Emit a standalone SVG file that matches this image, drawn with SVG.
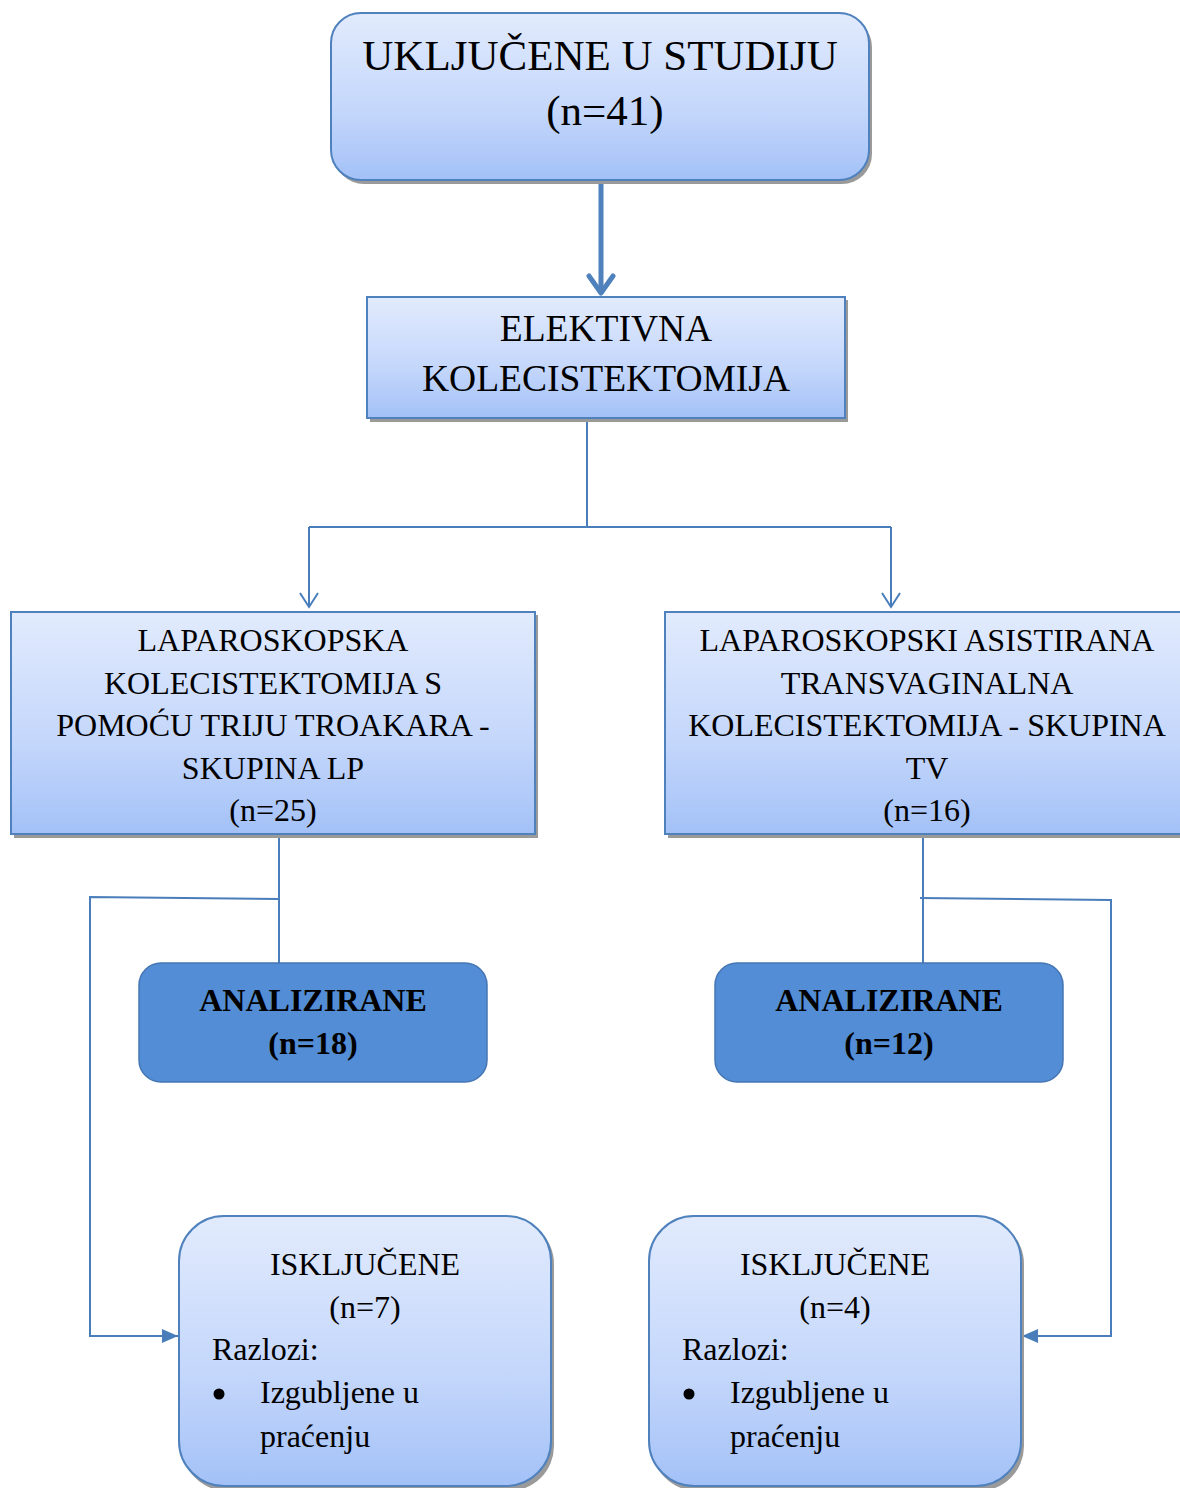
<svg xmlns="http://www.w3.org/2000/svg" width="1180" height="1488" viewBox="0 0 1180 1488">
<defs>
<linearGradient id="g" x1="0" y1="0" x2="0" y2="1">
<stop offset="0" stop-color="#e2ebfd"/>
<stop offset="0.6" stop-color="#c3d6fb"/>
<stop offset="1" stop-color="#a3c1f7"/>
</linearGradient>
<marker id="open" viewBox="0 0 20 20" refX="18" refY="10" markerWidth="20" markerHeight="20" markerUnits="userSpaceOnUse" orient="auto">
<path d="M4 1 L18 10 L4 19" fill="none" stroke="#4a7ebb" stroke-width="2"/>
</marker>
<marker id="tri" viewBox="0 0 16 14" refX="16" refY="7" markerWidth="16" markerHeight="14" markerUnits="userSpaceOnUse" orient="auto">
<path d="M0 0 L16 7 L0 14 Z" fill="#4a7ebb"/>
</marker>
</defs>
<style>
.box{fill:url(#g);stroke:#4f81bd;stroke-width:2}
.sh{fill:#9a9a9a}
.dark{fill:#538dd5;stroke:#4676b4;stroke-width:1.5}
.t{font-family:"Liberation Serif","Times New Roman",serif;fill:#000}
.c{text-anchor:middle}
.b{font-weight:bold}
.ln{fill:none;stroke:#4a7ebb;stroke-width:2}
</style>
<g id="connectors">
<path d="M601 180 V293" fill="none" stroke="#4f81bd" stroke-width="5"/>
<path d="M589 276 L601 293 L613 276" fill="none" stroke="#4f81bd" stroke-width="5" stroke-linejoin="round" stroke-linecap="round"/>
<path class="ln" d="M587 419 V527"/>
<path class="ln" d="M309 527 H891"/>
<path class="ln" d="M309 527 V607" marker-end="url(#open)"/>
<path class="ln" d="M891 527 V607" marker-end="url(#open)"/>
<path class="ln" d="M279 835 V963"/>
<path class="ln" d="M279 899 L90 897 V1336 H178" marker-end="url(#tri)"/>
<path class="ln" d="M923 835 V963"/>
<path class="ln" d="M920 898 L1111 900 V1336 H1022" marker-end="url(#tri)"/>
</g>
<g id="n1">
<rect class="sh" x="334" y="17" width="538" height="167" rx="30"/>
<rect class="box" x="331" y="13" width="538" height="167" rx="30"/>
<text class="t c" x="600" y="70" font-size="43">UKLJUČENE U STUDIJU</text>
<text class="t c" x="605" y="125" font-size="43">(n=41)</text>
</g>
<g id="n2">
<rect class="sh" x="370" y="300" width="478" height="122"/>
<rect class="box" x="367" y="297" width="478" height="121"/>
<text class="t c" x="606" y="341" font-size="37.5">ELEKTIVNA</text>
<text class="t c" x="606" y="391" font-size="37.5">KOLECISTEKTOMIJA</text>
</g>
<g id="n3">
<rect class="sh" x="14" y="615" width="524" height="223"/>
<rect class="box" x="11" y="612" width="524" height="222"/>
<g class="t c" font-size="32">
<text x="273" y="651">LAPAROSKOPSKA</text>
<text x="273" y="694">KOLECISTEKTOMIJA S</text>
<text x="273" y="736">POMOĆU TRIJU TROAKARA -</text>
<text x="273" y="779">SKUPINA LP</text>
<text x="273" y="821">(n=25)</text>
</g>
</g>
<g id="n4">
<rect class="sh" x="668" y="615" width="520" height="223"/>
<rect class="box" x="665" y="612" width="520" height="222"/>
<g class="t c" font-size="32">
<text x="927" y="651">LAPAROSKOPSKI ASISTIRANA</text>
<text x="927" y="694">TRANSVAGINALNA</text>
<text x="927" y="736">KOLECISTEKTOMIJA - SKUPINA</text>
<text x="927" y="779">TV</text>
<text x="927" y="821">(n=16)</text>
</g>
</g>
<g id="n5">
<rect class="dark" x="139" y="963" width="348" height="119" rx="22"/>
<text class="t c b" x="313" y="1011" font-size="32">ANALIZIRANE</text>
<text class="t c b" x="313" y="1054" font-size="32">(n=18)</text>
</g>
<g id="n6">
<rect class="dark" x="715" y="963" width="348" height="119" rx="22"/>
<text class="t c b" x="889" y="1011" font-size="32">ANALIZIRANE</text>
<text class="t c b" x="889" y="1054" font-size="32">(n=12)</text>
</g>
<g id="n7">
<rect class="sh" x="182" y="1219" width="372" height="272" rx="45"/>
<rect class="box" x="179" y="1216" width="372" height="270" rx="45"/>
<g class="t" font-size="32">
<text class="c" x="365" y="1275">ISKLJUČENE</text>
<text class="c" x="365" y="1318">(n=7)</text>
<text x="212" y="1360">Razlozi:</text>
<text x="260" y="1403">Izgubljene u</text>
<text x="260" y="1447">praćenju</text>
</g>
<circle cx="219" cy="1394" r="5.5" fill="#000"/>
</g>
<g id="n8">
<rect class="sh" x="652" y="1219" width="372" height="272" rx="45"/>
<rect class="box" x="649" y="1216" width="372" height="270" rx="45"/>
<g class="t" font-size="32">
<text class="c" x="835" y="1275">ISKLJUČENE</text>
<text class="c" x="835" y="1318">(n=4)</text>
<text x="682" y="1360">Razlozi:</text>
<text x="730" y="1403">Izgubljene u</text>
<text x="730" y="1447">praćenju</text>
</g>
<circle cx="689" cy="1394" r="5.5" fill="#000"/>
</g>
</svg>
